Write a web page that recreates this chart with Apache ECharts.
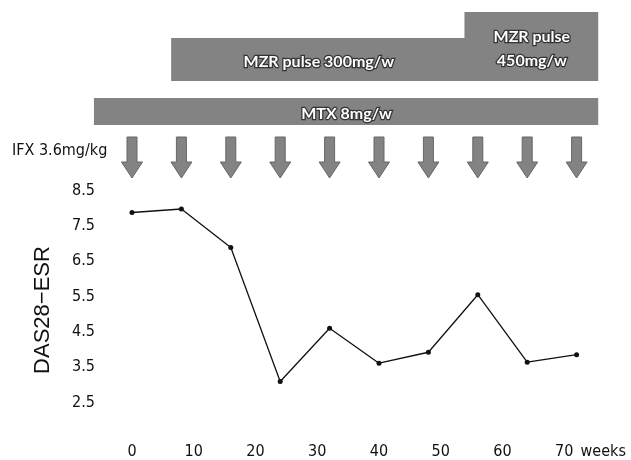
<!DOCTYPE html>
<html>
<head>
<meta charset="utf-8">
<script src="https://cdn.jsdelivr.net/npm/echarts@6/dist/echarts.min.js"></script>
<style>html,body{margin:0;padding:0;background:#fff;}#c{width:631px;height:460px;}</style>
</head>
<body>
<div id="c"></div>
<script>
// ---- data ----
const weeks = [0, 8, 16, 24, 32, 40, 48, 56, 64, 72];
const das28 = [7.88, 7.98, 6.89, 3.09, 4.60, 3.61, 3.92, 5.55, 3.64, 3.85];
const ifxWeeks = [0, 8, 16, 24, 32, 40, 48, 56, 64, 72];
const ifxLabel = 'IFX 3.6mg/kg';
const treatmentNames = ['MTX 8mg/w', 'MZR pulse 300mg/w', 'MZR pulse\n450mg/w'];
const treatmentStart = [-6, 6.5, 54];
const treatmentEnd = [75.5, 54, 75.5];
const yTickLabels = [2.5, 3.5, 4.5, 5.5, 6.5, 7.5, 8.5];
const xTickLabels = [0, 10, 20, 30, 40, 50, 60, 70];
const xUnit = 'weeks';
const yTitle = 'DAS28\u2212ESR';

// ---- layout / style (not data) ----
const lanes = [{top: 98, bottom: 125}, {top: 38, bottom: 81}, {top: 12, bottom: 81}];
const arrowGeom = {top: 137, shaftBottom: 162, tip: 178, shaftHalf: 5, headHalf: 10.5};
const gray = '#838383';
const narrow = "'Liberation Sans Narrow', 'DejaVu Sans Condensed', 'Liberation Sans', sans-serif";

const chart = echarts.init(document.getElementById('c'), null, {renderer: 'canvas'});

const option = {
  animation: false,
  backgroundColor: '#ffffff',
  grid: [
    {left: 132, right: 54.4, top: 173, height: 247.7},
    {left: 132, right: 54.4, top: 0, height: 180}
  ],
  xAxis: [
    {
      type: 'value', gridIndex: 0, min: 0, max: 72, interval: 10,
      axisLine: {show: false}, axisTick: {show: false}, splitLine: {show: false},
      axisLabel: {
        margin: 24, fontSize: 16, color: '#111', fontFamily: narrow,
        showMaxLabel: false,
        formatter: v => (xTickLabels.indexOf(v) >= 0 ? String(v) : '')
      },
      name: xUnit, nameLocation: 'end', nameGap: 4,
      nameTextStyle: {fontSize: 16, color: '#111', fontFamily: narrow, verticalAlign: 'top', padding: [24, 0, 0, 0]}
    },
    {
      type: 'value', gridIndex: 1, min: 0, max: 72, show: false
    }
  ],
  yAxis: [
    {
      type: 'value', gridIndex: 0, min: 2, max: 9, interval: 0.5,
      axisLine: {show: false}, axisTick: {show: false}, splitLine: {show: false},
      axisLabel: {
        margin: 37, fontSize: 16, color: '#111', fontFamily: narrow,
        formatter: v => {
          const r = Math.round(v * 10) / 10;
          return yTickLabels.indexOf(r) >= 0 ? r.toFixed(1) : '';
        }
      }
    },
    {
      type: 'value', gridIndex: 1, min: 0, max: 180, inverse: true, show: false
    }
  ],
  graphic: [
    {
      type: 'text', left: 12, top: 143,
      style: {text: ifxLabel, fontSize: 16, fontFamily: narrow, fill: '#111'}
    },
    {
      type: 'text', x: 43, y: 310, rotation: Math.PI / 2,
      style: {text: yTitle, fontSize: 22, fontFamily: "'Liberation Sans', Arial, sans-serif", fill: '#111', align: 'center', verticalAlign: 'middle'}
    }
  ],
  series: [
    {
      type: 'custom', xAxisIndex: 1, yAxisIndex: 1, clip: false, silent: true,
      data: treatmentNames.map((n, i) => [treatmentStart[i], treatmentEnd[i], i]),
      renderItem: function (params, api) {
        const i = api.value(2);
        const lane = lanes[i];
        const p0 = api.coord([api.value(0), lane.top]);
        const p1 = api.coord([api.value(1), lane.bottom]);
        return {
          type: 'group',
          children: [
            {type: 'rect', shape: {x: p0[0] - 1, y: p0[1], width: p1[0] - p0[0] + 1, height: p1[1] - p0[1]},
             style: {fill: gray}},
            {type: 'text', style: {
              text: treatmentNames[i], x: (p0[0] + p1[0]) / 2, y: (p0[1] + p1[1]) / 2 + 2,
              align: 'center', verticalAlign: 'middle', fontSize: 16, fontWeight: 'bold',
              fontFamily: "Lato, 'Open Sans', sans-serif", lineHeight: 24,
              fill: '#ffffff', stroke: '#333', lineWidth: 2.5
            }, z2: 10}
          ]
        };
      }
    },
    {
      type: 'custom', xAxisIndex: 1, yAxisIndex: 1, clip: false, silent: true,
      data: ifxWeeks.map(w => [w]),
      renderItem: function (params, api) {
        const cx = api.coord([api.value(0), 0])[0];
        const t = api.coord([0, arrowGeom.top])[1];
        const s = api.coord([0, arrowGeom.shaftBottom])[1];
        const b = api.coord([0, arrowGeom.tip])[1];
        const a = arrowGeom;
        return {
          type: 'polygon',
          shape: {points: [
            [cx - a.shaftHalf, t], [cx + a.shaftHalf, t], [cx + a.shaftHalf, s],
            [cx + a.headHalf, s], [cx, b], [cx - a.headHalf, s], [cx - a.shaftHalf, s]
          ]},
          style: {fill: gray, stroke: '#666', lineWidth: 1}
        };
      }
    },
    {
      type: 'line', xAxisIndex: 0, yAxisIndex: 0,
      data: weeks.map((w, i) => [w, das28[i]]),
      symbol: 'circle', symbolSize: 5,
      lineStyle: {color: '#111', width: 1.3},
      itemStyle: {color: '#111'}
    }
  ]
};
chart.setOption(option);
</script>
</body>
</html>
